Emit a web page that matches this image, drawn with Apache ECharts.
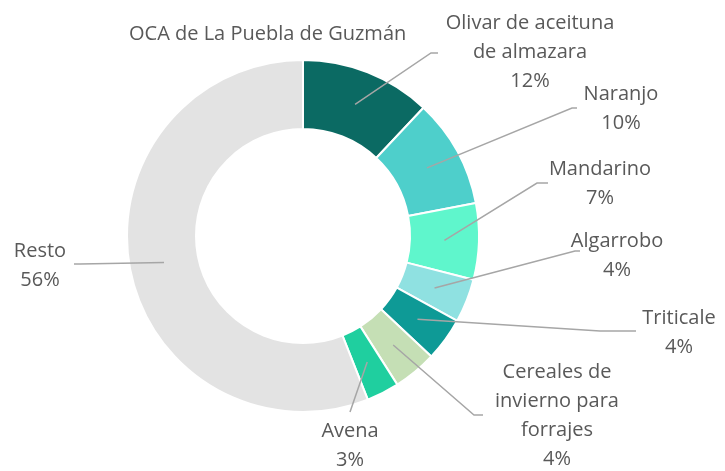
<!DOCTYPE html>
<html>
<head>
<meta charset="utf-8">
<script src="https://cdn.jsdelivr.net/npm/echarts@6/dist/echarts.min.js"></script>
<style>
  html, body { margin: 0; padding: 0; background: #fff; }
  #container { width: 725px; height: 471px; }
</style>
</head>
<body>
<div id="container"></div>
<script>
// data (percent of area)
var categories = [
  "Olivar de aceituna\nde almazara",
  "Naranjo",
  "Mandarino",
  "Algarrobo",
  "Triticale",
  "Cereales de\ninvierno para\nforrajes",
  "Avena",
  "Resto"
];
var shares = [12, 10, 7, 4, 4, 4, 3, 56];

// styling
var colors = ["#0b6a63", "#4ecfcb", "#5ff6cc", "#8fe1e1", "#0e9a96", "#c5dfb5", "#1fcf9f", "#e3e3e3"];
var labelPos = [[530, 52], [621, 109], [600, 184], [617, 256], [679, 333], [557, 416], [350, 446], [40, 266]];
var lineBend = [[431, 53], [572, 108], [537, 183], [575, 251], [600, 331], [474, 415], [350, 412], [80, 264]];
var lineEnd = [[438, 53], [577, 108], [548, 183], [580, 251], [636, 331], [483, 415], [350, 412], [74, 264]];

var cx = 303, cy = 236, rIn = 107, rOut = 176;

var total = shares.reduce(function (a, b) { return a + b; }, 0);
var midAngles = [];
var acc = 0;
shares.forEach(function (v) {
  midAngles.push((acc + v / 2) / total * Math.PI * 2);
  acc += v;
});

var dom = document.getElementById("container");
var myChart = echarts.init(dom, null, { renderer: "canvas" });

var pieData = categories.map(function (name, i) {
  return { name: name, value: shares[i], itemStyle: { color: colors[i] } };
});

var option = {
  title: {
    text: "OCA de La Puebla de Guzmán",
    left: 124,
    top: 19,
    textStyle: {
      fontFamily: "Open Sans",
      fontSize: 20,
      fontWeight: "normal",
      color: "#595959"
    }
  },
  series: [
    {
      // the ring itself
      type: "pie",
      center: [cx, cy],
      radius: [rIn, rOut],
      startAngle: 90,
      clockwise: true,
      animation: false,
      silent: true,
      itemStyle: { borderColor: "#fff", borderWidth: 2 },
      label: { show: false },
      labelLine: { show: false },
      data: pieData
    },
    {
      // same data again, invisible, only to carry labels and leader lines on top
      type: "pie",
      z: 3,
      center: [cx, cy],
      radius: [rIn, rOut],
      startAngle: 90,
      clockwise: true,
      avoidLabelOverlap: false,
      animation: false,
      silent: true,
      itemStyle: { color: "rgba(0,0,0,0)", borderWidth: 0 },
      label: {
        show: true,
        position: "outside",
        formatter: function (p) { return p.name + "\n" + p.value + "%"; },
        fontFamily: "Open Sans",
        fontSize: 20,
        lineHeight: 29,
        color: "#595959",
        align: "center"
      },
      labelLine: {
        show: true,
        lineStyle: { color: "#a6a6a6", width: 1.5 }
      },
      labelLayout: function (params) {
        var i = params.dataIndex;
        var a = midAngles[i];
        var rm = (rIn + rOut) / 2;
        var start = [cx + rm * Math.sin(a), cy - rm * Math.cos(a)];
        return {
          x: labelPos[i][0],
          y: labelPos[i][1],
          align: "center",
          verticalAlign: "middle",
          labelLinePoints: [start, lineBend[i], lineEnd[i]]
        };
      },
      data: categories.map(function (name, i) {
        return { name: name, value: shares[i] };
      })
    }
  ]
};

myChart.setOption(option);
window.addEventListener("resize", myChart.resize);
</script>
</body>
</html>
